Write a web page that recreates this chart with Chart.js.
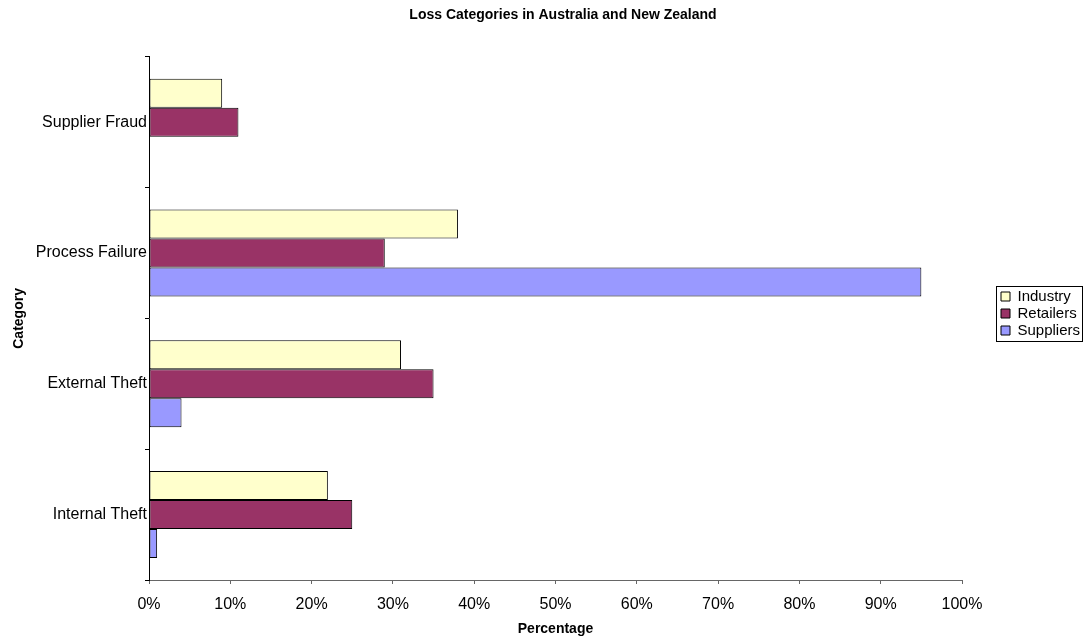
<!DOCTYPE html>
<html>
<head>
<meta charset="utf-8">
<script src="https://cdn.jsdelivr.net/npm/chart.js@4/dist/chart.umd.min.js"></script>
<style>
  html, body { margin: 0; padding: 0; background: #fff; }
  #wrap { width: 1084px; height: 639px; }
</style>
</head>
<body>
<div id="wrap"><canvas id="c" width="1084" height="639"></canvas></div>
<script>
const categories = ['Supplier Fraud', 'Process Failure', 'External Theft', 'Internal Theft'];
const industry   = [9, 38, 31, 22];
const retailers  = [11, 29, 35, 25];
const suppliers  = [null, 95, 4, 1];
const xTicks = [0, 10, 20, 30, 40, 50, 60, 70, 80, 90, 100];

const FONT = "'Liberation Sans', Arial, sans-serif";

const legendPlacement = {
  id: 'legendPlacement',
  beforeLayout(chart) {
    const lg = chart.legend;
    if (lg && !lg.__patched) {
      const f = lg.fit;
      lg.fit = function () { f.call(this); this.width = 122; };
      lg.__patched = true;
    }
  },
  afterLayout(chart) {
    const lg = chart.legend;
    if (lg) {
      const pad = lg.options.labels.padding;
      const dx = 1001 - (lg.left + pad);
      lg.left += dx; lg.right += dx;
      lg.top -= 6; lg.bottom -= 6;
    }
    const tb = chart.titleBlock;
    if (tb) { tb.left += 21; tb.right += 21; }
  },
  afterDraw(chart) {
    const lg = chart.legend;
    if (!lg || !lg.legendHitBoxes || !lg.legendHitBoxes.length) return;
    let l = Infinity, t = Infinity, r = -Infinity, b = -Infinity;
    lg.legendHitBoxes.forEach(h => {
      l = Math.min(l, h.left); t = Math.min(t, h.top);
      r = Math.max(r, h.left + h.width); b = Math.max(b, h.top + h.height);
    });
    const ctx = chart.ctx;
    ctx.save();
    ctx.strokeStyle = '#000';
    ctx.lineWidth = 1;
    const x0 = Math.round(l - 5) + 0.5, y0 = Math.round(t - 3) + 0.5;
    const x1 = Math.round(r + 2) + 0.5, y1 = Math.round(b + 3) + 0.5;
    ctx.strokeRect(x0, y0, x1 - x0, y1 - y0);
    ctx.restore();
  }
};

new Chart(document.getElementById('c'), {
  type: 'bar',
  data: {
    labels: categories,
    datasets: [
      { label: 'Industry', data: industry, backgroundColor: '#FFFFCC' },
      { label: 'Retailers', data: retailers, backgroundColor: '#993366' },
      { label: 'Suppliers', data: suppliers, backgroundColor: '#9999FF' }
    ].map(d => Object.assign(d, {
      borderColor: '#000', borderWidth: 1, borderSkipped: false,
      barPercentage: 1.0, categoryPercentage: 0.665
    }))
  },
  options: {
    indexAxis: 'y',
    responsive: true,
    maintainAspectRatio: false,
    animation: false,
    layout: { padding: { left: 0, right: 0, top: 0, bottom: 0 } },
    plugins: {
      title: {
        display: true,
        text: 'Loss Categories in Australia and New Zealand',
        color: '#000',
        font: { family: FONT, size: 14, weight: 'bold' },
        padding: { top: 7, bottom: 33 }
      },
      legend: {
        position: 'right',
        labels: {
          color: '#000',
          boxWidth: 9, boxHeight: 9,
          font: { family: FONT, size: 15 },
          padding: 2,
          generateLabels(chart) {
            return chart.data.datasets.map((d, i) => ({
              text: d.label, fillStyle: d.backgroundColor, strokeStyle: '#000',
              lineWidth: 1, hidden: false, datasetIndex: i, fontColor: '#000'
            }));
          }
        }
      },
      tooltip: { enabled: false }
    },
    scales: {
      x: {
        type: 'linear',
        min: 0, max: 100,
        afterBuildTicks(scale) { scale.ticks = xTicks.map(v => ({ value: v })); },
        ticks: {
          color: '#000',
          font: { family: FONT, size: 16 },
          padding: 11,
          maxRotation: 0,
          callback: v => v + '%'
        },
        grid: { drawOnChartArea: false, drawTicks: true, tickLength: 4, color: '#666' },
        border: { display: true, color: '#666', width: 1 },
        title: {
          display: true, text: 'Percentage', color: '#000',
          font: { family: FONT, size: 14, weight: 'bold' },
          padding: { top: -4, bottom: 1 }
        }
      },
      y: {
        type: 'category',
        afterFit(scale) { scale.width = 149; },
        ticks: {
          color: '#000',
          font: { family: FONT, size: 16 },
          padding: -2
        },
        grid: { offset: true, drawOnChartArea: false, drawTicks: true, tickLength: 4, color: '#000' },
        border: { display: true, color: '#000', width: 1 },
        title: {
          display: true, text: 'Category', color: '#000',
          font: { family: FONT, size: 14, weight: 'bold' },
          padding: { top: 11, bottom: 0 }
        }
      }
    }
  },
  plugins: [legendPlacement]
});
</script>
</body>
</html>
